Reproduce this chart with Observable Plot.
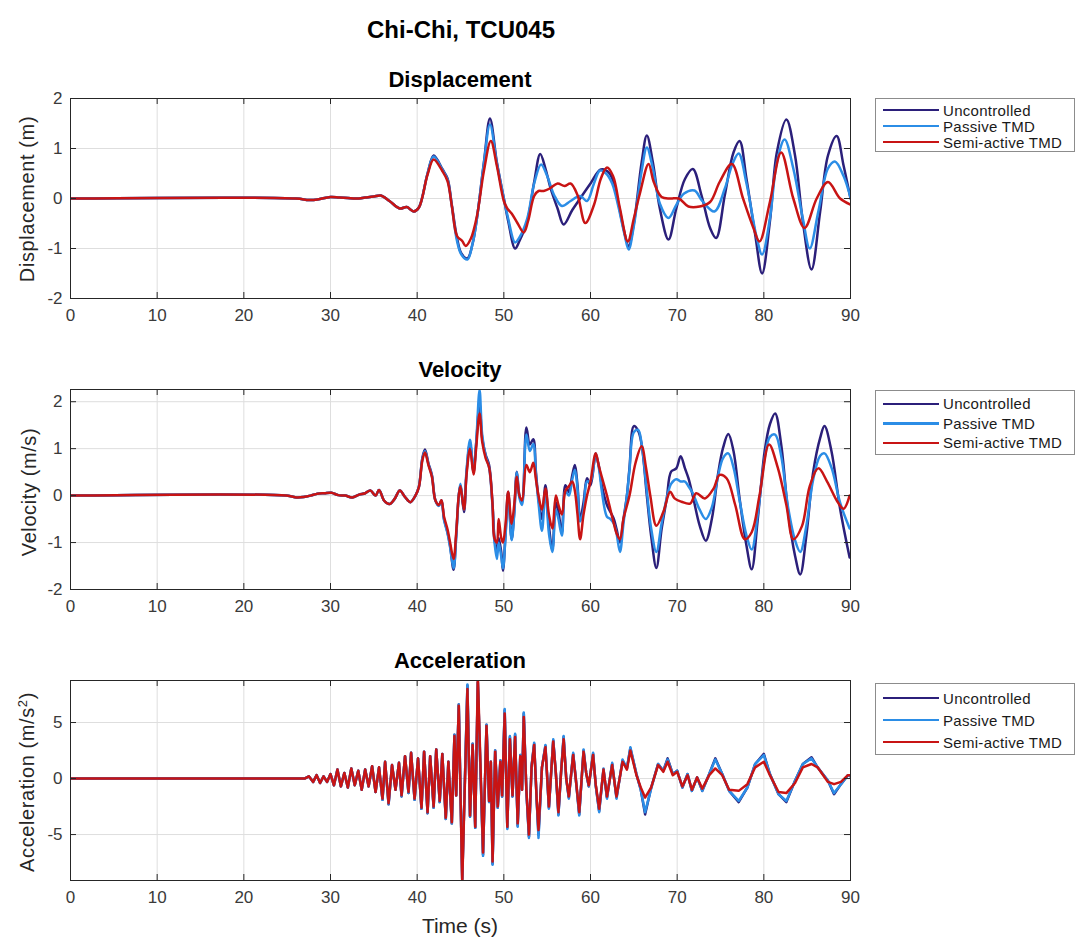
<!DOCTYPE html>
<html>
<head>
<meta charset="utf-8">
<script src="https://cdn.jsdelivr.net/npm/d3@7"></script>
<script src="https://cdn.jsdelivr.net/npm/@observablehq/plot@0.6"></script>
<style>
  html, body { margin: 0; padding: 0; background: #fff; }
  #fig { position: relative; width: 1077px; height: 940px; font-family: "Liberation Sans", Arial, sans-serif; color: #000; }
  .abs { position: absolute; }
  .main-title { font-weight: bold; font-size: 24px; left: 0; width: 922px; text-align: center; top: 16px; }
  .sub-title { font-weight: bold; font-size: 22px; left: 70px; width: 780px; text-align: center; }
  .ylab { font-size: 20px; letter-spacing: 0.6px; color: #262626; white-space: nowrap; transform: translate(-50%, -50%) rotate(-90deg); }
  .xlab { font-size: 21px; color: #262626; left: 70px; width: 780px; text-align: center; }
  .legend { border: 1px solid #8c8c8c; background: #fff; left: 875px; width: 200px; box-sizing: border-box; }
  .legend .row { position: absolute; left: 0; height: 16px; display: flex; align-items: center; font-size: 15px; letter-spacing: 0.3px; color: #1a1a1a; white-space: nowrap; }
  .legend .swatch { width: 56px; height: 2.5px; margin-left: 7px; margin-right: 4px; }
  .panel { position: absolute; left: 0; }
</style>
</head>
<body>
<div id="fig"></div>
<script>
// ---------- data ----------
const seriesNames = ["Uncontrolled", "Passive TMD", "Semi-active TMD"];
const seriesColors = ["#2b1f7a", "#2b8de6", "#c81414"];
const xTicks = [0, 10, 20, 30, 40, 50, 60, 70, 80, 90];
const dispTicks = [-2, -1, 0, 1, 2];
const velTicks = [-2, -1, 0, 1, 2];
const accTicks = [-5, 0, 5];

// Displacement (m) : [time s, value]
const dispEarly = [[0,0],[26,0],[27.5,-0.03],[28.5,-0.02],[30,0.03],[31,0.02],[32,0.01],[33,0],[34,0.02],[35,0.04],[35.8,0.06],[36.8,-0.05],[38,-0.2],[38.8,-0.17],[39.6,-0.26],[40.2,-0.18]];
const dispUncontrolled = [[41.2,0.5],[41.9,0.86],[42.9,0.59],[43.5,0.4],[44,-0.13],[44.6,-0.79],[45.1,-1.1],[45.8,-1.2],[46.4,-0.9],[46.9,-0.39],[47.7,0.72],[48.4,1.6],[49.2,0.72],[50,0],[50.5,-0.45],[51.3,-1.0],[51.8,-0.85],[52.7,-0.46],[53.5,0.33],[54.2,0.89],[54.8,0.6],[55.4,0.2],[56.2,-0.2],[56.9,-0.52],[57.9,-0.23],[58.8,0],[60,0.3],[61.2,0.58],[62.2,0.5],[63,0.07],[63.8,-0.59],[64.4,-0.95],[65,-0.5],[65.9,0.72],[66.5,1.26],[67.2,0.72],[68,-0.2],[69,-0.82],[69.9,-0.2],[70.9,0.39],[71.8,0.59],[72.8,0.07],[73.8,-0.59],[74.5,-0.79],[75.5,0.07],[76.5,0.92],[77.2,1.15],[78,0.39],[79,-0.72],[79.8,-1.5],[80.7,-0.46],[81.5,0.92],[82.6,1.58],[83.6,0.86],[84.5,-0.46],[85.5,-1.42],[86.5,-0.26],[87.4,0.86],[88.4,1.25],[89.2,0.66],[90,0]];
const dispPassive = [[41.2,0.5],[41.9,0.84],[42.9,0.58],[43.5,0.38],[44,-0.15],[44.6,-0.85],[45.1,-1.12],[45.8,-1.22],[46.4,-0.9],[46.9,-0.39],[47.7,0.7],[48.4,1.48],[49.2,0.7],[50,0],[50.5,-0.4],[51.3,-0.88],[51.8,-0.78],[52.7,-0.4],[53.5,0.3],[54.3,0.68],[55,0.45],[55.8,0.07],[56.7,-0.15],[57.7,-0.05],[58.8,0.05],[59.6,-0.05],[60.4,0.3],[61.1,0.56],[61.8,0.5],[62.5,0.3],[63.2,-0.15],[63.9,-0.7],[64.4,-1.02],[65,-0.55],[65.9,0.55],[66.5,1.02],[67.2,0.6],[68,-0.1],[69,-0.39],[69.9,-0.13],[70.8,0.1],[72,0.16],[72.9,-0.05],[74.3,-0.26],[75.5,0.2],[76.4,0.7],[77.1,0.9],[78,0.3],[79.2,-0.8],[79.8,-1.12],[80.7,-0.4],[81.5,0.72],[82.4,1.18],[83.4,0.6],[84.5,-0.4],[85.3,-1.0],[86.3,-0.25],[87.4,0.6],[88.2,0.74],[89.2,0.45],[90,0.02]];
const dispSemiActive = [[41.2,0.48],[41.9,0.78],[42.9,0.55],[43.5,0.35],[44,-0.15],[44.6,-0.75],[45.2,-0.85],[45.6,-0.95],[46.2,-0.8],[46.9,-0.35],[47.7,0.55],[48.5,1.15],[49.2,0.65],[50,-0.05],[50.4,-0.2],[50.9,-0.3],[51.6,-0.5],[52.3,-0.68],[52.8,-0.45],[53.5,0.05],[54,0.15],[54.6,0.15],[55.3,0.2],[56.2,0.3],[57,0.25],[57.7,0.3],[58.5,0.07],[59.4,-0.49],[60.4,-0.13],[61.2,0.4],[61.9,0.62],[62.6,0.45],[63.4,-0.2],[64.3,-0.86],[65,-0.4],[65.7,0.1],[66.7,0.69],[67.3,0.33],[68.2,0.03],[69.2,0],[70.2,0],[71.3,-0.16],[72.6,-0.16],[73.8,-0.07],[74.9,0.33],[76.3,0.69],[77.6,0],[78.8,-0.59],[79.5,-0.86],[80.7,-0.07],[82,0.92],[83.4,0],[84.7,-0.59],[86.1,0],[87.4,0.33],[88.8,0],[90,-0.12]];

// Velocity (m/s) : [time s, value]
const velEarly = [[0,0],[24.9,0],[26.1,-0.04],[26.9,-0.03],[27.7,0],[28.5,0.04],[29.3,0.05],[30.1,0.06],[30.9,0.01],[31.7,0],[32.5,-0.04],[33.3,0.02],[34,0.05],[34.6,0.11],[35.2,0],[35.6,0.12],[36.2,-0.11],[36.8,-0.18],[37.4,-0.07],[38,0.11],[38.6,-0.03],[39.2,-0.14],[39.8,0]];
const velUncontrolled = [[40.2,0.19],[40.6,0.8],[40.9,0.98],[41.3,0.69],[41.7,0.44],[42.1,-0.1],[42.5,-0.21],[42.8,-0.1],[43.1,-0.5],[43.5,-0.78],[43.8,-1.07],[44.2,-1.58],[44.5,-0.86],[44.8,0],[45,0.22],[45.4,-0.35],[45.7,0.5],[46.1,1.12],[46.5,0.5],[46.8,1.09],[47.2,1.95],[47.5,1.23],[47.9,0.87],[48.3,0.65],[48.7,-0.2],[48.9,-0.86],[49.2,-1.25],[49.4,-0.9],[49.7,-1.2],[49.9,-1.6],[50.2,-0.8],[50.5,0.08],[50.9,-0.93],[51.2,-0.35],[51.5,0.51],[51.8,0],[52.1,-0.14],[52.6,1.45],[53,1.09],[53.4,1.2],[53.7,0.51],[54,-0.06],[54.4,-0.5],[54.8,0.22],[55.2,-0.64],[55.6,-1.15],[56,-0.14],[56.3,-0.35],[56.7,-0.78],[57.1,0.22],[57.5,0.08],[57.9,0.44],[58.2,0.65],[58.5,0.22],[58.8,-0.5],[59.2,-0.14],[59.6,0.37],[60,0.22],[60.6,0.85],[61,0.6],[61.3,0.22],[61.9,-0.2],[62.3,-0.35],[62.7,-0.5],[63,-0.71],[63.4,-1.0],[63.8,-0.5],[64.2,0],[64.5,0.59],[65,1.48],[65.5,1.38],[65.9,1.09],[66.5,0],[67,-0.86],[67.6,-1.54],[68.2,-0.72],[68.8,-0.06],[69.3,0.51],[69.9,0.58],[70.4,0.84],[70.9,0.58],[71.3,0.37],[71.8,0],[72.6,-0.64],[73.3,-0.96],[74,-0.5],[74.7,0.44],[75.3,1.02],[75.9,1.31],[76.5,0.95],[77.2,-0.06],[78,-1.07],[78.6,-1.57],[79.3,-0.5],[80.1,0.95],[80.7,1.52],[81.3,1.75],[82,1.09],[82.8,-0.35],[83.6,-1.28],[84.2,-1.68],[84.9,-0.86],[85.7,0.51],[86.5,1.23],[87,1.48],[87.8,0.95],[88.8,-0.28],[89.9,-1.32]];
const velPassive = [[40.2,0.19],[40.6,0.78],[40.9,0.95],[41.3,0.67],[41.7,0.42],[42.1,-0.1],[42.5,-0.22],[42.8,-0.12],[43.1,-0.52],[43.5,-0.8],[43.8,-1.1],[44.2,-1.55],[44.5,-0.9],[44.8,0],[45,0.25],[45.4,-0.3],[45.7,0.55],[46.1,1.19],[46.5,0.55],[46.8,1.1],[47.2,2.25],[47.5,1.3],[47.9,0.85],[48.3,0.6],[48.7,-0.25],[48.9,-0.95],[49.2,-1.35],[49.4,-1.0],[49.7,-1.3],[49.9,-1.55],[50.2,-0.85],[50.5,0.05],[50.9,-0.95],[51.2,-0.4],[51.5,0.5],[51.8,-0.05],[52.1,-0.2],[52.6,1.3],[53,0.95],[53.4,1.1],[53.7,0.45],[54,-0.15],[54.4,-0.75],[54.8,0.1],[55.2,-0.8],[55.6,-1.2],[56,-0.3],[56.3,-0.5],[56.7,-0.85],[57.1,0.1],[57.5,0],[57.9,0.35],[58.2,0.55],[58.5,0.15],[58.8,-0.55],[59.2,-0.3],[59.6,0.3],[60,0.3],[60.6,0.9],[61,0.55],[61.3,0.1],[61.9,-0.45],[62.3,-0.5],[62.7,-0.6],[63,-0.8],[63.4,-1.2],[63.8,-0.6],[64.2,0],[64.5,0.55],[65,1.35],[65.5,1.4],[65.9,1.1],[66.5,0.1],[67,-0.7],[67.6,-1.2],[68.2,-0.6],[68.8,-0.05],[69.3,0.25],[69.9,0.35],[70.4,0.3],[70.9,0.3],[71.3,0.2],[71.8,0.05],[72.6,-0.3],[73.3,-0.5],[74,-0.25],[74.7,0.4],[75.3,0.8],[75.9,0.9],[76.5,0.6],[77.2,-0.1],[78,-0.85],[78.6,-1.15],[79.3,-0.4],[80.1,0.8],[80.7,1.25],[81.3,1.3],[82,0.85],[82.8,-0.25],[83.6,-0.95],[84.2,-1.2],[84.9,-0.65],[85.7,0.35],[86.5,0.85],[87,0.9],[87.8,0.6],[88.8,-0.15],[89.9,-0.7]];
const velSemiActive = [[40.2,0.18],[40.6,0.75],[40.9,0.92],[41.3,0.65],[41.7,0.4],[42.1,-0.1],[42.5,-0.2],[42.8,-0.1],[43.1,-0.45],[43.5,-0.72],[43.8,-1.0],[44.2,-1.35],[44.5,-0.8],[44.8,0],[45,0.2],[45.4,-0.3],[45.7,0.45],[46.1,1.0],[46.5,0.45],[46.8,1.0],[47.2,1.75],[47.5,1.15],[47.9,0.8],[48.3,0.6],[48.7,-0.2],[48.9,-0.9],[49.2,-1.0],[49.4,-0.5],[49.7,-0.9],[49.9,-1.0],[50.2,-0.6],[50.5,0.08],[50.9,-0.6],[51.2,-0.2],[51.5,0.4],[51.8,0],[52.1,-0.1],[52.6,0.65],[53,0.5],[53.4,0.7],[53.7,0.35],[54,0],[54.4,-0.3],[54.8,0.15],[55.2,-0.4],[55.6,-0.7],[56,0],[56.3,-0.2],[56.7,-0.4],[57.1,0.1],[57.5,0.2],[57.9,0.3],[58.2,0.1],[58.5,-0.4],[58.8,-0.93],[59.2,-0.4],[59.6,0],[60,0.3],[60.6,0.9],[61,0.6],[61.3,0.4],[61.9,0],[62.3,-0.3],[62.7,-0.6],[63,-0.8],[63.4,-0.93],[63.8,-0.5],[64.5,0],[65.2,0.7],[65.9,1.05],[66.4,0.6],[66.9,0],[67.6,-0.64],[68.4,-0.35],[69.2,0.08],[69.7,-0.06],[70.5,-0.13],[71.5,-0.17],[72.2,0.05],[73.2,-0.06],[74.2,0.15],[74.9,0.44],[75.7,0.37],[76.7,-0.2],[77.8,-0.93],[78.6,-0.78],[79.5,0],[80.6,1.09],[81.6,0.6],[82.6,-0.2],[83.4,-0.93],[84.4,-0.65],[85.3,0.2],[86.3,0.58],[87.3,0.3],[88.5,-0.13],[89.2,-0.28],[89.9,0]];

// Acceleration (m/s^2) : shared time stamps, one value list per series
const accTime = [0,26,27,27.5,28,28.4,28.8,29.2,29.6,30.0,30.4,30.8,31.2,31.6,32.0,32.4,32.8,33.2,33.6,34.0,34.4,34.8,35.2,35.6,36.0,36.3,36.7,37.1,37.5,37.9,38.2,38.6,39.0,39.3,39.7,40.1,40.5,40.8,41.2,41.5,41.9,42.2,42.6,42.9,43.3,43.6,44.0,44.3,44.5,44.8,45.2,45.8,46.1,46.4,46.7,47.0,47.6,48.0,48.3,48.5,48.7,49.0,49.3,49.6,49.8,50.1,50.4,50.7,51.0,51.3,51.6,51.9,52.1,52.3,52.6,52.9,53.2,53.5,53.8,54.0,54.4,54.8,55.2,55.7,56.0,56.3,56.6,56.9,57.2,57.5,58.0,58.3,58.7,59.2,59.5,59.8,60.3,60.6,61.0,61.5,61.9,62.5,63.0,63.7,64.2,64.6,65.3,65.8,66.3,67.0,67.8,68.4,68.9,69.5,70.0,70.6,71.2,71.7,72.3,72.9,73.7,74.4,75.2,76.0,77.1,78.1,79.0,80.0,80.7,81.7,82.6,83.6,84.5,85.5,86.2,87.4,88.1,88.9,89.7,90];
const accUncontrolled = [0,0,0,0.2,-0.3,0.3,-0.4,0.2,-0.3,0.4, -0.6,0.8,-0.7,0.5,-0.8,0.9,-0.6,0.7,-1.0,0.8, -0.7,1.1,-1.2,1.0,-1.9,1.5,-2.3,1.2,-1.0,1.4, -1.6,2.0,-1.3,2.3,-1.9,1.8,-2.7,2.4,-3.1,2.0, -2.6,2.6,-2.1,2.2,-3.6,1.5,-4.0,3.9,-1.5,6.6, -9.0,8.3,-3.4,3.1,-4.4,8.6,-6.8,4.8,-2.1,1.5, -7.6,2.5,-2.6,1.6,-1.6,6.1,-4.4,3.7,-1.6,3.9, -4.2,2.1,-1.0,5.8,-1.1,-5.2,1.1,3.1,-2.1,-5.0, 1.0,2.9,-2.6,3.4,0.5,-3.2,0.5,3.7,0.0,-1.7, 2.2,0.0,-3.2,2.5,0.5,-0.7,2.2,-0.6,-2.9,0.8, -1.7,1.3,-1.7,1.6,0.9,2.7,0.4,-1.0,-3.2,-0.8, 1.3,0.7,1.8,0.4,0.7,-0.8,0.4,-1.1,0.1,-1.1, 0.4,1.8,0.4,-1.1,-2.1,-0.8,1.3,2.2,0.4,-1.4, -2.1,-0.2,1.3,1.9,1.0,-0.2,-1.4,-0.5,0.3,0.2];
const accPassive = [0,0,0,0.2,-0.3,0.3,-0.4,0.2,-0.3,0.4, -0.6,0.8,-0.7,0.5,-0.8,0.9,-0.6,0.7,-1.0,0.8, -0.7,1.1,-1.2,1.0,-1.9,1.5,-2.3,1.2,-1.0,1.4, -1.6,2.0,-1.3,2.3,-1.9,1.8,-2.7,2.4,-3.1,2.0, -2.6,2.6,-2.1,2.2,-3.6,1.5,-4.0,3.9,-1.5,6.6, -9.0,8.4,-3.4,3.1,-4.4,8.6,-6.9,4.8,-2.1,1.5, -7.7,2.5,-2.6,1.6,-1.6,6.2,-4.5,3.8,-1.6,4.0, -4.3,2.1,-1.0,5.9,-1.1,-5.3,1.1,3.2,-2.1,-5.3, 1.0,3.0,-2.7,3.5,0.5,-3.3,0.5,3.8,0.0,-1.8, 2.3,0.0,-3.3,2.6,0.5,-0.7,2.3,-0.6,-3.0,0.9, -1.8,1.4,-1.8,1.7,0.9,2.8,0.4,-1.0,-3.0,-0.9, 1.3,0.7,1.7,0.4,0.7,-0.8,0.4,-1.1,0.1,-1.1, 0.4,1.7,0.4,-1.1,-2.0,-0.8,1.3,2.1,0.4,-1.4, -2.0,-0.2,1.3,1.8,1.0,-0.2,-1.3,-0.5,0.3,0.2];
const accSemiActive = [0,0,0,0.2,-0.3,0.3,-0.4,0.2,-0.3,0.4, -0.6,0.8,-0.7,0.5,-0.8,0.9,-0.6,0.7,-1.0,0.8, -0.7,1.1,-1.2,1.0,-1.8,1.5,-2.2,1.2,-1.0,1.4, -1.5,2.0,-1.2,2.3,-1.8,1.8,-2.6,2.4,-3.0,2.0, -2.5,2.6,-2.0,2.2,-3.5,1.5,-3.9,3.8,-1.5,6.5, -9.3,8.0,-3.3,3.0,-4.3,9.2,-6.6,4.7,-2.0,1.5, -7.4,2.4,-2.5,1.5,-1.5,5.8,-4.3,3.5,-1.5,3.7, -4.0,2.0,-1.0,5.5,-1.0,-5.0,1.0,3.0,-2.0,-4.6, 1.0,2.8,-2.5,3.3,0.5,-3.0,0.5,3.5,0.0,-1.6, 2.1,0.0,-3.0,2.4,0.5,-0.6,2.1,-0.5,-2.7,0.8, -1.6,1.2,-1.6,1.5,0.8,2.5,0.3,-0.8,-1.7,-0.8, 1.2,0.6,1.5,0.3,0.6,-0.7,0.3,-1.0,0.1,-0.9, 0.3,0.9,0.3,-1.0,-1.1,-0.5,1.0,1.5,0.3,-1.2, -1.3,-0.4,1.0,1.3,1.0,-0.3,-0.5,-0.3,0.3,0.3];

// ---------- drawing ----------
const FONT = '"Liberation Sans", Arial, sans-serif';
const fig = document.getElementById("fig");
const AREA_H = 200, AREA_W = 780;

function addDiv(cls, text, style) {
  const d = document.createElement("div");
  d.className = "abs " + cls;
  d.textContent = text;
  Object.assign(d.style, style || {});
  fig.appendChild(d);
  return d;
}

function panel(series, yDomain, yTicks, curve, top) {
  const lines = series.map((s, i) => Plot.line(s, {
    x: d => d[0], y: d => d[1], stroke: seriesColors[i], strokeWidth: 2.5,
    curve, clip: true
  }));
  const svg = Plot.plot({
    width: 870, height: 10 + AREA_H + 35,
    marginLeft: 70, marginRight: 20, marginTop: 10, marginBottom: 35,
    style: { fontFamily: FONT, fontSize: "17px", color: "#3a3a3a", background: "transparent" },
    x: { domain: [0, 90] },
    y: { domain: yDomain },
    marks: [
      Plot.gridX(xTicks, { stroke: "#dedede", strokeOpacity: 1 }),
      Plot.gridY(yTicks, { stroke: "#dedede", strokeOpacity: 1 }),
      ...lines,
      Plot.ruleX(xTicks, { insetTop: AREA_H - 6, stroke: "#262626" }),
      Plot.ruleX(xTicks, { insetBottom: AREA_H - 6, stroke: "#262626" }),
      Plot.ruleY(yTicks, { insetRight: AREA_W - 6, stroke: "#262626" }),
      Plot.ruleY(yTicks, { insetLeft: AREA_W - 6, stroke: "#262626" }),
      Plot.frame({ stroke: "#262626" }),
      Plot.axisX({ ticks: xTicks, tickSize: 0, tickPadding: 10, tickFormat: d => String(d), label: null }),
      Plot.axisY({ ticks: yTicks, tickSize: 0, tickPadding: 8, tickFormat: d => String(d), label: null })
    ]
  });
  svg.classList.add("panel");
  svg.style.top = (top - 10) + "px";
  fig.appendChild(svg);
}

function legend(top, spacing) {
  const box = addDiv("legend", "", { top: top + "px", height: (spacing * 3 + 6) + "px" });
  seriesNames.forEach((name, i) => {
    const row = document.createElement("div");
    row.className = "row";
    row.style.top = (3 + i * spacing + (spacing - 16) / 2) + "px";
    const sw = document.createElement("div");
    sw.className = "swatch";
    sw.style.background = seriesColors[i];
    const tx = document.createElement("span");
    tx.textContent = name;
    row.appendChild(sw); row.appendChild(tx);
    box.appendChild(row);
  });
}

const toPairs = vals => accTime.map((t, i) => [t, vals[i]]);

addDiv("main-title", "Chi-Chi, TCU045");

// Panel 1
addDiv("sub-title", "Displacement", { top: "67px" });
panel([dispEarly.concat(dispUncontrolled), dispEarly.concat(dispPassive), dispEarly.concat(dispSemiActive)],
      [-2, 2], dispTicks, "catmull-rom", 98);
addDiv("ylab", "Displacement (m)", { left: "27px", top: "199px" });
legend(98, 16);

// Panel 2
addDiv("sub-title", "Velocity", { top: "357px" });
panel([velEarly.concat(velUncontrolled), velEarly.concat(velPassive), velEarly.concat(velSemiActive)],
      [-2, 2.26], velTicks, "catmull-rom", 389);
addDiv("ylab", "Velocity (m/s)", { left: "29px", top: "492px" });
legend(390, 19.5);

// Panel 3
addDiv("sub-title", "Acceleration", { top: "648px" });
panel([toPairs(accUncontrolled), toPairs(accPassive), toPairs(accSemiActive)],
      [-9.1, 8.75], accTicks, "linear", 680);
const al = addDiv("ylab", "", { left: "27px", top: "782px" });
al.innerHTML = "Acceleration (m/s<sup style='font-size:13px'>2</sup>)";
addDiv("xlab", "Time (s)", { top: "914px" });
legend(683, 22);
</script>
</body>
</html>
